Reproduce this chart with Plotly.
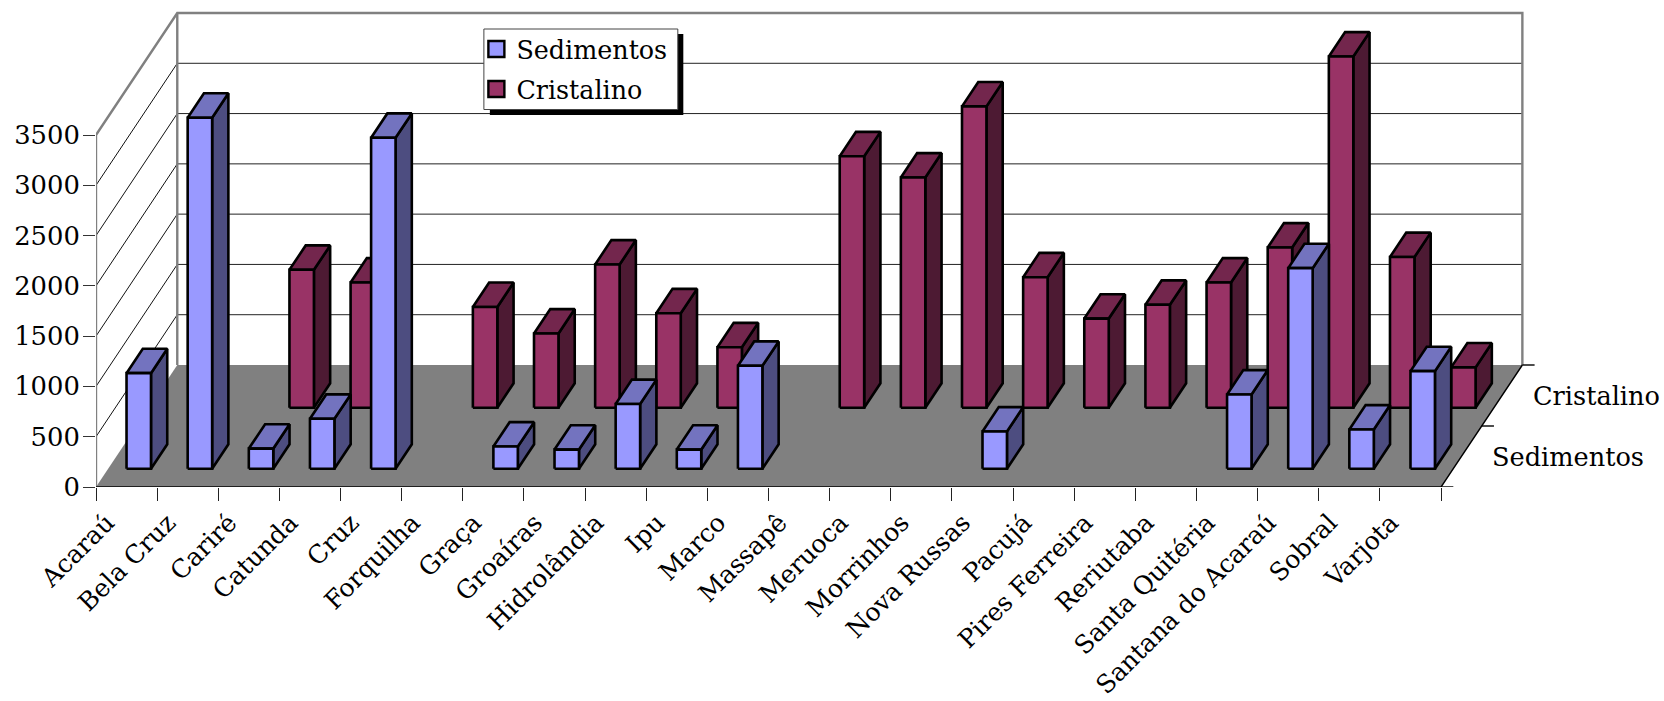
import plotly.graph_objects as go

categories = ["Acaraú", "Bela Cruz", "Cariré", "Catunda", "Cruz", "Forquilha", "Graça",
              "Groaíras", "Hidrolândia", "Ipu", "Marco", "Massapê", "Meruoca", "Morrinhos",
              "Nova Russas", "Pacujá", "Pires Ferreira", "Reriutaba", "Santa Quitéria",
              "Santana do Acaraú", "Sobral", "Varjota"]
sedimentos = [950, 3490, 200, 496, 3290, None, 220, 190, 643, 190, 1023, None, None, None,
              370, None, None, None, 738, 1994, 390, 970]
cristalino = [None, None, 1371, 1245, None, 1002, 738, 1424, 939, 601, None, 2500, 2289,
              2996, 1297, 886, 1023, 1245, 1593, 3492, 1498, 401]
y_ticks = [0, 500, 1000, 1500, 2000, 2500, 3000, 3500]
series_names = ["Sedimentos", "Cristalino"]

FONT = "DejaVu Serif"
FONT_SIZE = 25.8
W, H = 1664, 701
X0, Y0 = 95.5, 487.0          # pixel position of the front-left floor corner
CAT_PX = 61.16                # pixels per category along the front edge
VAL_PX = 352.0 / 3500         # pixels per value unit
SKEW_X = 40.65 / CAT_PX       # horizontal shift per series row, in categories
SKEW_Y = 61.0 / VAL_PX        # vertical shift per series row, in value units
N = len(categories)
ROWS = len(series_names)
TOP = y_ticks[-1]


def project(cat, value, depth):
    """Oblique projection of (category, value, series row) onto the 2D axes."""
    return cat + depth * SKEW_X, value + depth * SKEW_Y


def path(points, closed=False):
    xs, ys = [], []
    for c, v, d in points:
        x, y = project(c, v, d)
        xs.append(x)
        ys.append(y)
    if closed:
        xs.append(xs[0])
        ys.append(ys[0])
    return xs, ys


def join(paths):
    xs, ys = [], []
    for px, py in paths:
        xs += px + [None]
        ys += py + [None]
    return xs, ys


def paper_x(px):
    return (px - X0) / (W - X0)


def paper_y(px):
    return (Y0 - px) / Y0


fig = go.Figure()


def add_lines(paths, color, width):
    xs, ys = join(paths)
    fig.add_trace(go.Scatter(x=xs, y=ys, mode="lines", line=dict(color=color, width=width),
                             hoverinfo="skip", showlegend=False, cliponaxis=False))


def add_faces(paths, fill):
    xs, ys = join(paths)
    fig.add_trace(go.Scatter(x=xs, y=ys, mode="lines", fill="toself", fillcolor=fill,
                             line=dict(color="black", width=2.6), hoverinfo="skip",
                             showlegend=False, cliponaxis=False))


# Thin gridlines on the back and side walls
inner = y_ticks[1:-1]
add_lines([path([(0, v, ROWS), (N, v, ROWS)]) for v in inner], "#222222", 1)
add_lines([path([(0, v, 0), (0, v, ROWS)]) for v in inner], "#111111", 1)

# Floor
xs, ys = path([(0, 0, 0), (N, 0, 0), (N, 0, ROWS), (0, 0, ROWS)], closed=True)
fig.add_trace(go.Scatter(x=xs, y=ys, mode="lines", fill="toself", fillcolor="#808080",
                         line=dict(width=0), hoverinfo="skip", showlegend=False))

# Wall outline
add_lines([
    path([(0, 0, 0), (0, TOP, 0), (0, TOP, ROWS), (N, TOP, ROWS), (N, 0, ROWS)]),
    path([(0, TOP, ROWS), (0, 0, ROWS)]),
], "#808080", 2.4)

# Front and right floor edges with the series-axis ticks
add_lines([
    path([(0, 0, 0), (N, 0, 0), (N, 0, ROWS)]),
    *[path([(N, 0, d), (N + 0.2, 0, d)]) for d in range(ROWS + 1)],
], "black", 1.4)

# Bars: the back row first, so the front row overlaps it
BAR_COLORS = {
    "Cristalino": ("#993366", "#4D1A33", "#73264D"),
    "Sedimentos": ("#9999FF", "#4D4D80", "#7373BF"),
}
for name, values, row in (("Cristalino", cristalino, 1), ("Sedimentos", sedimentos, 0)):
    front, side, top = [], [], []
    d0, d1 = row + 0.3, row + 0.7
    for i, v in enumerate(values):
        if v is None:
            continue
        c0, c1 = i + 0.3, i + 0.7
        front.append(path([(c0, 0, d0), (c1, 0, d0), (c1, v, d0), (c0, v, d0)], closed=True))
        side.append(path([(c1, 0, d0), (c1, 0, d1), (c1, v, d1), (c1, v, d0)], closed=True))
        top.append(path([(c0, v, d0), (c1, v, d0), (c1, v, d1), (c0, v, d1)], closed=True))
    colors = BAR_COLORS[name]
    add_faces(side, colors[1])
    add_faces(top, colors[2])
    add_faces(front, colors[0])

# Legend entries
for name, swatch in zip(series_names, ("#9999FF", "#993366")):
    fig.add_trace(go.Scatter(x=[None], y=[None], mode="markers", name=name, legendgroup=name,
                             marker=dict(symbol="square", size=16, color=swatch,
                                         line=dict(color="black", width=2.4))))

# Series-axis labels
annotations = []
for row, name in enumerate(series_names):
    x, y = project(N, 0, row + 0.5)
    annotations.append(dict(x=x, y=y, text=name, showarrow=False, xanchor="left", yanchor="middle",
                            xshift=29, font=dict(family=FONT, size=25.6, color="black")))

# Legend box and its drop shadow sit under the legend entries
legend_box = [
    dict(type="rect", xref="paper", yref="paper", layer="above",
         x0=paper_x(489.5), x1=paper_x(683), y0=paper_y(115), y1=paper_y(34),
         fillcolor="black", line=dict(width=0)),
    dict(type="rect", xref="paper", yref="paper", layer="above",
         x0=paper_x(483.5), x1=paper_x(677.5), y0=paper_y(109.5), y1=paper_y(29),
         fillcolor="white", line=dict(color="#444444", width=1)),
]

fig.update_layout(
    width=W, height=H,
    margin=dict(l=X0, r=0, t=0, b=H - Y0, pad=0),
    paper_bgcolor="white", plot_bgcolor="white",
    font=dict(family=FONT, size=FONT_SIZE, color="black"),
    annotations=annotations,
    legend=dict(x=paper_x(476), y=paper_y(26), xanchor="left", yanchor="top",
                bgcolor="rgba(0,0,0,0)", borderwidth=0,
                tracegroupgap=4, itemsizing="trace",
                traceorder="grouped", font=dict(family=FONT, size=25.4)),
    shapes=legend_box,
    xaxis=dict(
        range=[0, (W - X0) / CAT_PX], showgrid=False, zeroline=False, showline=False,
        automargin=False,
        tickmode="array", tickvals=[i + 0.18 for i in range(N)], ticktext=categories,
        tickangle=-45, ticks="outside", ticklen=0, tickwidth=0,
        ticklabelstandoff=10, tickfont=dict(family=FONT, size=25.1),
        minor=dict(tickmode="array", tickvals=list(range(N + 1)), ticks="outside",
                   ticklen=13, tickwidth=1.4, tickcolor="#222222", showgrid=False),
    ),
    yaxis=dict(
        range=[0, Y0 / VAL_PX], showgrid=False, zeroline=False, showline=False,
        automargin=False,
        tickmode="array", tickvals=y_ticks, ticks="outside", ticklen=12,
        ticklabelstandoff=-2,
        tickwidth=1.4, tickcolor="#333333", tickfont=dict(family=FONT, size=FONT_SIZE),
    ),
)

fig.write_html("out.html")
